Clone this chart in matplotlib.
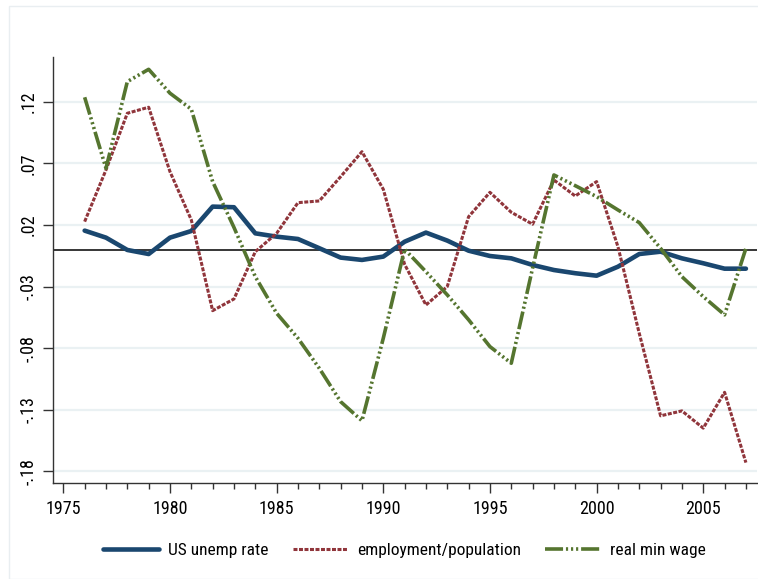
import numpy as np
import matplotlib
matplotlib.use("Agg")
import matplotlib.pyplot as plt
from matplotlib.patches import Rectangle
from matplotlib.ticker import FixedLocator, MultipleLocator

plt.rcParams["font.family"] = ["Roboto Condensed", "Archivo Narrow", "Liberation Sans", "DejaVu Sans"]

years = np.arange(1976, 2008)
unemp = [0.0154, 0.0097, -0.0003, -0.0036, 0.0097, 0.0151, 0.0349, 0.0344,
         0.0132, 0.0105, 0.0086, 0.0011, -0.0065, -0.0084, -0.0057, 0.0064,
         0.0138, 0.0073, -0.0009, -0.0052, -0.0071, -0.0125, -0.0166, -0.0192,
         -0.0212, -0.0139, -0.0036, -0.0017, -0.0071, -0.0111, -0.0155, -0.0155]
emp_pop = [0.0227, 0.0647, 0.1107, 0.1156, 0.0633, 0.0241, -0.0496, -0.0401,
           -0.0017, 0.0132, 0.0381, 0.0395, 0.0592, 0.0795, 0.0490, -0.0120,
           -0.0450, -0.0300, 0.0267, 0.0465, 0.0303, 0.0206, 0.0565, 0.0435,
           0.0552, 0.0024, -0.0680, -0.1350, -0.1310, -0.1450, -0.1159, -0.1730]
min_wage = [0.1237, 0.0660, 0.1364, 0.1464, 0.1270, 0.1140, 0.0552, 0.0180,
            -0.0220, -0.0517, -0.0720, -0.0964, -0.1235, -0.1390, -0.0720, 0.0003,
            -0.0180, -0.0368, -0.0570, -0.0788, -0.0923, -0.0150, 0.0606, 0.0519,
            0.0430, 0.0322, 0.0219, 0.0010, -0.0220, -0.0382, -0.0530, 0.0010]
labels = ["US unemp rate", "employment/population", "real min wage"]
yticks = [0.12, 0.07, 0.02, -0.03, -0.08, -0.13, -0.18]
ytick_labels = [".12", ".07", ".02", "-.03", "-.08", "-.13", "-.18"]

W, H = 758, 579
fig = plt.figure(figsize=(W / 100, H / 100), dpi=100)
# light outer frame of the graph region
fig.patches.append(Rectangle((9 / W, 0), 1, 1 - 6 / H, transform=fig.transFigure,
                             fill=False, ec="#e9eef1", lw=1.0, zorder=0))
ax = fig.add_axes([53.3 / W, 1 - 483.3 / H, (757 - 53.3) / W, (483.3 - 57) / H])

ax.set_yticks(yticks)
ax.set_yticklabels(ytick_labels, rotation=90, va="center", fontsize=13)
ax.yaxis.grid(True, color="#eaf1f3", lw=1.6)
ax.set_axisbelow(True)
ax.axhline(0, color="black", lw=1.1, zorder=2)

ax.plot(years, unemp, color="#1a476f", lw=3.3, solid_capstyle="round",
        solid_joinstyle="round", label=labels[0], zorder=3)
ax.plot(years, emp_pop, color="#90353b", lw=2.2, dashes=(1.3, 0.5),
        dash_capstyle="butt", label=labels[1], zorder=3)
ax.plot(years, min_wage, color="#55752f", lw=2.6,
        dashes=(5.0, 0.8, 0.6, 0.8, 0.6, 0.8, 0.6, 0.8), label=labels[2], zorder=3)

ax.set_xlim(1974.53, 2007.52)
ax.set_ylim(-0.1898, 0.1564)
ax.xaxis.set_major_locator(FixedLocator(range(1975, 2010, 5)))
ax.xaxis.set_minor_locator(MultipleLocator(1))
ax.tick_params(axis="x", which="major", length=7, width=1, color="#333333",
               labelsize=13, pad=5)
ax.tick_params(axis="x", which="minor", length=4, width=1, color="#333333")
ax.tick_params(axis="y", length=7, width=1, color="#333333", pad=4)
for side in ("top", "right"):
    ax.spines[side].set_visible(False)
for side in ("left", "bottom"):
    ax.spines[side].set_color("#333333")
    ax.spines[side].set_linewidth(1.0)

fig.legend(loc="center", bbox_to_anchor=(404.5 / W, 1 - 550 / H), ncol=3,
           frameon=False, fontsize=12.5, handlelength=3.2, handletextpad=0.52,
           columnspacing=1.38)

fig.savefig("out.png", dpi=100)
